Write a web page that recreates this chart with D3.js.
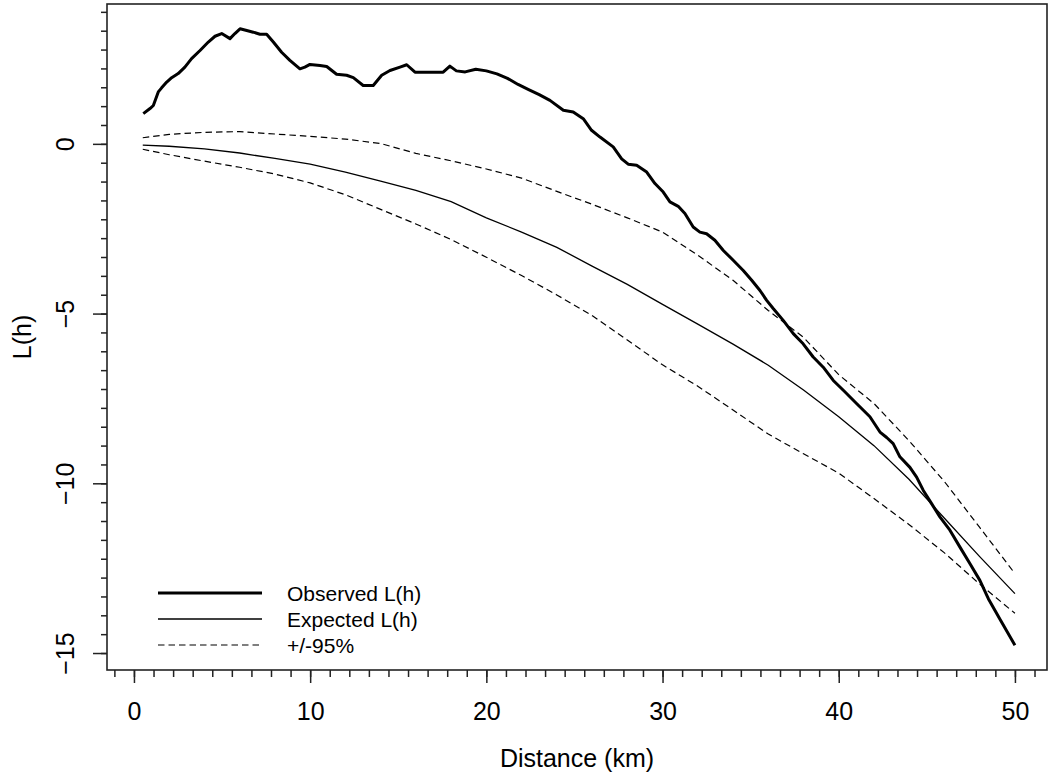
<!DOCTYPE html>
<html>
<head>
<meta charset="utf-8">
<script src="https://cdn.jsdelivr.net/npm/d3@7/dist/d3.min.js"></script>
<style>
  body { margin: 0; background: #fff; }
  text { font-family: "Liberation Sans", Arial, sans-serif; fill: #000; }
</style>
</head>
<body>
<svg id="chart" width="1048" height="775"></svg>
<script>
// observed L(h)
const obsDist = [0.53, 0.91, 1.1, 1.38, 1.57, 1.86, 2.14, 2.51, 2.89, 3.27, 3.75, 4.22, 4.6, 4.98, 5.45, 5.73,
  6.02, 6.4, 6.77, 7.15, 7.53, 7.91, 8.38, 8.85, 9.42, 9.7, 9.99, 10.56, 10.94, 11.5, 12.07, 12.45, 13.01,
  13.58, 14.06, 14.53, 15.1, 15.48, 15.95, 17.55, 17.93, 18.3, 18.8, 19.4, 20.0, 20.6, 21.2, 21.8, 22.4,
  23.0, 23.61, 24.37, 24.93, 25.5, 25.97, 26.45, 27.2, 27.68, 28.05, 28.53, 29.1, 29.57, 30.04, 30.42,
  30.89, 31.27, 31.74, 32.12, 32.5, 32.97, 33.45, 34.01, 34.58, 35.06, 35.53, 35.91, 36.28, 36.85, 37.42,
  37.98, 38.55, 39.12, 39.69, 40.26, 41.01, 41.77, 42.34, 42.72, 43.09, 43.47, 44.04, 44.42, 44.8, 45.27,
  45.74, 46.31, 46.88, 47.45, 48.01, 48.49, 49.2, 50.0];
const obsL = [0.89, 1.04, 1.13, 1.53, 1.65, 1.82, 1.95, 2.07, 2.26, 2.51, 2.75, 3.0, 3.17, 3.25, 3.1, 3.25,
  3.39, 3.34, 3.29, 3.23, 3.23, 3.0, 2.7, 2.46, 2.21, 2.26, 2.34, 2.31, 2.28, 2.05, 2.02, 1.95, 1.72,
  1.72, 2.02, 2.16, 2.26, 2.33, 2.11, 2.11, 2.29, 2.15, 2.12, 2.2, 2.15, 2.06, 1.93, 1.75, 1.6,
  1.45, 1.28, 0.99, 0.94, 0.74, 0.4, 0.2, -0.09, -0.44, -0.6, -0.63, -0.83, -1.17, -1.42, -1.71,
  -1.84, -2.05, -2.45, -2.6, -2.65, -2.84, -3.14, -3.43, -3.73, -4.02, -4.32, -4.61, -4.85, -5.2, -5.59,
  -5.89, -6.28, -6.58, -6.97, -7.26, -7.65, -8.04, -8.49, -8.65, -8.83, -9.22, -9.53, -9.82, -10.21, -10.6,
  -10.99, -11.38, -11.88, -12.37, -12.86, -13.4, -14.05, -14.77];

// expected L(h) and the 95% envelope
const envDist = [0.5, 2, 4, 6, 8, 10, 12, 14, 16, 18, 20, 22, 24, 26, 28, 30, 32, 34, 36, 38, 40, 42, 44, 46, 48, 50];
const expL   = [-0.04, -0.07, -0.15, -0.27, -0.43, -0.6, -0.83, -1.1, -1.37, -1.7, -2.18, -2.6, -3.05,
  -3.6, -4.14, -4.73, -5.31, -5.9, -6.52, -7.25, -8.04, -8.89, -9.89, -11.03, -12.16, -13.25];
const upperL = [0.18, 0.28, 0.34, 0.36, 0.29, 0.22, 0.14, 0.01, -0.28, -0.5, -0.74, -1.01, -1.4,
  -1.78, -2.18, -2.6, -3.28, -4.02, -4.91, -5.7, -6.8, -7.65, -8.75, -9.95, -11.3, -12.66];
const lowerL = [-0.16, -0.32, -0.51, -0.69, -0.89, -1.15, -1.5, -1.93, -2.36, -2.82, -3.34, -3.88, -4.45,
  -5.06, -5.78, -6.51, -7.14, -7.84, -8.55, -9.13, -9.7, -10.45, -11.22, -12.05, -12.97, -13.83];

const xTicks = [0, 10, 20, 30, 40, 50];
const yTicks = [0, -5, -10, -15];
const legendLabels = ['Observed L(h)', 'Expected L(h)', '+/-95%'];

const svg = d3.select('#chart');
const plotLeft = 107, plotTop = 4, plotRight = 1047, plotBottom = 670;

// R style range: data range plus about 4% each side
const x = d3.scaleLinear().domain([-1.53, 51.82]).range([plotLeft, plotRight]);
const y = d3.scaleLinear().domain([-15.5, 4.12]).range([plotBottom, plotTop]);

const axisColor = '#222';

// minor ticks, nine steps between labelled ticks
const xMinor = d3.range(-1, 47).map(k => k * 10 / 9);
const yMinor = d3.range(-27, 8).map(k => k * 5 / 9);

svg.append('g')
  .attr('transform', 'translate(0,' + plotBottom + ')')
  .call(d3.axisBottom(x).tickValues(xMinor).tickSize(7).tickFormat(''))
  .call(g => g.select('.domain').remove());

svg.append('g')
  .attr('transform', 'translate(0,' + plotBottom + ')')
  .call(d3.axisBottom(x).tickValues(xTicks).tickSize(13).tickPadding(19).tickFormat(d3.format('d')))
  .call(g => g.select('.domain').remove())
  .call(g => g.selectAll('text').style('font-size', '25px'));

svg.append('g')
  .attr('transform', 'translate(' + plotLeft + ',0)')
  .call(d3.axisLeft(y).tickValues(yMinor).tickSize(6).tickFormat(''))
  .call(g => g.select('.domain').remove());

svg.append('g')
  .attr('transform', 'translate(' + plotLeft + ',0)')
  .call(d3.axisLeft(y).tickValues(yTicks).tickSize(14).tickFormat(d3.format('d')))
  .call(g => g.select('.domain').remove())
  .call(g => g.selectAll('text')
    .attr('x', 0).attr('y', -42).attr('dy', '0.35em')
    .attr('transform', 'rotate(-90)')
    .style('text-anchor', 'middle')
    .style('font-size', '25px'));

svg.selectAll('.tick line').attr('stroke', axisColor).attr('stroke-width', 1.5);

// plot box
svg.append('rect')
  .attr('x', plotLeft).attr('y', plotTop)
  .attr('width', plotRight - plotLeft).attr('height', plotBottom - plotTop)
  .attr('fill', 'none').attr('stroke', axisColor).attr('stroke-width', 1.6);

const line = d3.line().x(d => x(d[0])).y(d => y(d[1]));
const zip = (a, b) => a.map((v, i) => [v, b[i]]);

svg.append('path').datum(zip(envDist, upperL))
  .attr('d', line).attr('fill', 'none').attr('stroke', '#000')
  .attr('stroke-width', 1.2).attr('stroke-dasharray', '6.5,4');
svg.append('path').datum(zip(envDist, lowerL))
  .attr('d', line).attr('fill', 'none').attr('stroke', '#000')
  .attr('stroke-width', 1.2).attr('stroke-dasharray', '6.5,4');
svg.append('path').datum(zip(envDist, expL))
  .attr('d', line).attr('fill', 'none').attr('stroke', '#000')
  .attr('stroke-width', 1.3);
svg.append('path').datum(zip(obsDist, obsL))
  .attr('d', line).attr('fill', 'none').attr('stroke', '#000')
  .attr('stroke-width', 3).attr('stroke-linejoin', 'round');

// legend
const legendStyle = [
  { w: 3.2, dash: null },
  { w: 1.3, dash: null },
  { w: 1.2, dash: '6.5,4' }
];
const legend = svg.append('g');
legendLabels.forEach((lab, i) => {
  const ly = 593 + i * 26;
  legend.append('line')
    .attr('x1', 158).attr('x2', 262).attr('y1', ly).attr('y2', ly)
    .attr('stroke', '#000').attr('stroke-width', legendStyle[i].w)
    .attr('stroke-dasharray', legendStyle[i].dash);
  legend.append('text')
    .attr('x', 287).attr('y', ly).attr('dy', '0.36em')
    .style('font-size', '21px')
    .text(lab);
});

// axis titles
svg.append('text')
  .attr('x', (plotLeft + plotRight) / 2).attr('y', 758).attr('dy', '0.35em')
  .style('text-anchor', 'middle').style('font-size', '25px')
  .text('Distance (km)');

svg.append('text')
  .attr('transform', 'translate(22,' + (plotTop + plotBottom) / 2 + ') rotate(-90)')
  .attr('dy', '0.35em')
  .style('text-anchor', 'middle').style('font-size', '25px')
  .text('L(h)');
</script>
</body>
</html>
